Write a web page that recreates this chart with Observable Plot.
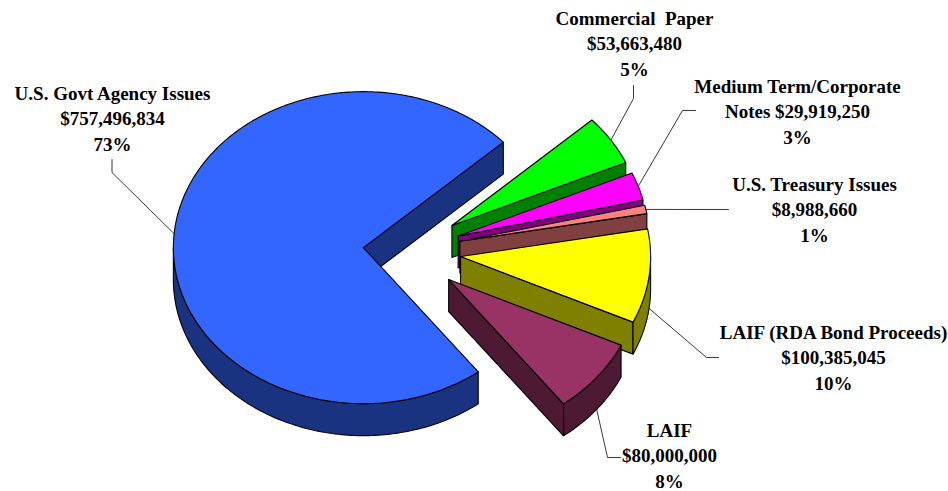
<!DOCTYPE html>
<html>
<head>
<meta charset="utf-8">
<script src="https://cdn.jsdelivr.net/npm/d3@7"></script>
<script src="https://cdn.jsdelivr.net/npm/@observablehq/plot@0.6"></script>
<style>
  html, body { margin: 0; padding: 0; background: #fff; }
  svg text { white-space: pre; }
</style>
</head>
<body>
<div id="chart"></div>
<script>
// Portfolio holdings, clockwise from the lower edge of the largest slice
const names = [
  ["U.S. Govt Agency Issues"],
  ["Commercial  Paper"],
  ["Medium Term/Corporate", "Notes"],
  ["U.S. Treasury Issues"],
  ["LAIF (RDA Bond Proceeds)"],
  ["LAIF"]
];
const amounts = [757496834, 53663480, 29919250, 8988660, 100385045, 80000000];
const percents = [73, 5, 3, 1, 10, 8];

// Slice appearance
const topColors = ["#3366ff", "#00ff00", "#ff00ff", "#ff8080", "#ffff00", "#993366"];
const wallColors = ["#1a3380", "#008000", "#800080", "#804040", "#808000", "#4d1933"];
const explode = [0.22, 0.295, 0.295, 0.295, 0.295, 0.295];

// Pie geometry, in pixels of the drawing area
const pivot = [404.5, 250.2];
const radiusX = 190;
const radiusY = 156;
const depth = 32;
const startDegrees = 52.8;

// Label baselines (last line), label centres and leader elbows
const labelX = [112, 634, 797, 814, 833, 669];
const labelY = [150, 75, 143, 241, 389, 487];
const leaderStart = [[111.5, 159], [633, 85], [695, 110], [728, 209], [718, 357], [620, 457]];
const leaderElbow = [[111.5, 172], [633, 98], [682, 110], null, [706, 357], [607, 457]];

const total = d3.sum(amounts);
const rad = (deg) => (deg * Math.PI) / 180;

let cursor = startDegrees;
const slices = amounts.map((amount, i) => {
  const a0 = cursor;
  const a1 = (cursor += (amount / total) * 360);
  const mid = (a0 + a1) / 2;
  const cx = pivot[0] + explode[i] * radiusX * Math.cos(rad(mid));
  const cy = pivot[1] + explode[i] * radiusY * Math.sin(rad(mid));
  return {i, a0, a1, mid, cx, cy};
});

const rimPoint = (s, deg, drop = 0) => [
  s.cx + radiusX * Math.cos(rad(deg)),
  s.cy + radiusY * Math.sin(rad(deg)) + drop
];

const arc = (s, from, to, drop = 0) => {
  const n = Math.max(2, Math.ceil(Math.abs(to - from)));
  return d3.range(n + 1).map((k) => rimPoint(s, from + ((to - from) * k) / n, drop));
};

const closed = (points) => [...points, points[0]];

// Top face of a slice
const topFace = (s) => closed([[s.cx, s.cy], ...arc(s, s.a0, s.a1)]);

// Flat cut wall along the clockwise edge, only visible when it faces downward
const cutWall = (s) => {
  if (Math.sin(rad(s.a1 + 90)) <= 0) return null;
  const end = rimPoint(s, s.a1);
  const low = rimPoint(s, s.a1, depth);
  return closed([[s.cx, s.cy], end, low, [s.cx, s.cy + depth]]);
};

// Curved outer wall, only the part of the rim that faces the viewer
const rimWall = (s) => {
  let from = null;
  let to = null;
  for (const turn of [0, -360, 360]) {
    const lo = Math.max(s.a0, 0 + turn);
    const hi = Math.min(s.a1, 180 + turn);
    if (hi > lo) { from = lo; to = hi; break; }
  }
  if (from === null) return null;
  return closed([...arc(s, from, to), ...arc(s, to, from, depth)]);
};

const polygon = (points, fill) =>
  Plot.line(points, {
    x: (d) => d[0],
    y: (d) => d[1],
    fill,
    stroke: "#000",
    strokeWidth: 1.1,
    strokeLinejoin: "miter",
    curve: "linear"
  });

// Back to front so the nearer slices overlap the walls behind them
const drawOrder = [1, 2, 3, 4, 5, 0];
const sliceMarks = drawOrder.flatMap((i) => {
  const s = slices[i];
  const parts = [];
  const cut = cutWall(s);
  const rim = rimWall(s);
  if (cut) parts.push(polygon(cut, wallColors[i]));
  if (rim) parts.push(polygon(rim, wallColors[i]));
  parts.push(polygon(topFace(s), topColors[i]));
  return parts;
});

// Leaders run from the label to the rim at the middle of the slice
const leaderMarks = slices.map((s) => {
  const drop = Math.sin(rad(s.mid)) > 0 ? depth : 0;
  const points = [leaderStart[s.i], leaderElbow[s.i], rimPoint(s, s.mid, drop)].filter(Boolean);
  return Plot.line(points, {
    x: (d) => d[0],
    y: (d) => d[1],
    stroke: "#222",
    strokeWidth: 0.9,
    curve: "linear"
  });
});

const money = d3.format("$,");
const labels = slices.map((s) => {
  const head = names[s.i];
  const value = money(amounts[s.i]);
  const lines = head.length > 1
    ? [head[0], `${head[1]} ${value}`]
    : [head[0], value];
  return {
    x: labelX[s.i],
    y: labelY[s.i],
    text: [...lines, `${percents[s.i]}%`].join("\n")
  };
});

const chart = Plot.plot({
  width: 948,
  height: 491,
  margin: 0,
  x: {domain: [0, 948], range: [0, 948], axis: null},
  y: {domain: [0, 491], range: [0, 491], axis: null},
  marks: [
    ...leaderMarks,
    ...sliceMarks,
    Plot.text(labels, {
      x: "x",
      y: "y",
      text: "text",
      textAnchor: "middle",
      lineAnchor: "bottom",
      lineHeight: 1.33,
      fontFamily: "'Liberation Serif', serif",
      fontWeight: "bold",
      fontSize: 19,
      fill: "#000"
    })
  ]
});
document.getElementById("chart").appendChild(chart);
</script>
</body>
</html>
